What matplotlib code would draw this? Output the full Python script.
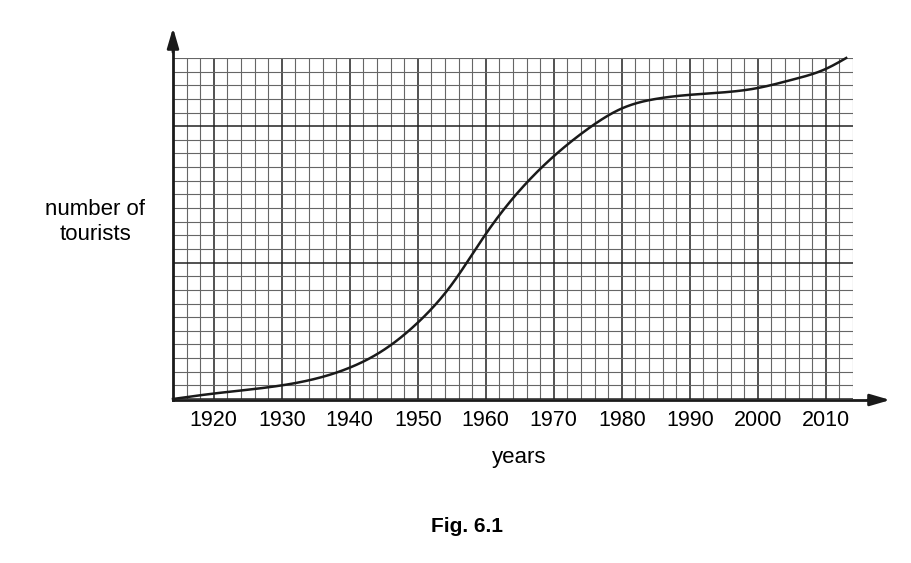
import numpy as np
import matplotlib.pyplot as plt

plt.rcParams['font.family'] = 'Liberation Sans'

# curve (y in small-square units, 0..25)
years = [1914, 1920, 1930, 1940, 1945, 1950, 1955, 1960, 1965, 1970, 1975,
         1980, 1985, 1990, 2000, 2005, 2010, 2013]
tourists = [0, 0.4, 1.0, 2.3, 3.6, 5.6, 8.4, 12.1, 15.3, 17.8, 19.8,
            21.3, 22.0, 22.3, 22.8, 23.4, 24.2, 25.0]
tick_years = list(range(1920, 2011, 10))


def natural_spline(xa, ya, xs):
    xa, ya = np.asarray(xa, float), np.asarray(ya, float)
    n = len(xa)
    h = np.diff(xa)
    A = np.zeros((n, n))
    b = np.zeros(n)
    A[0, 0] = A[-1, -1] = 1
    for i in range(1, n - 1):
        A[i, i - 1] = h[i - 1]
        A[i, i] = 2 * (h[i - 1] + h[i])
        A[i, i + 1] = h[i]
        b[i] = 6 * ((ya[i + 1] - ya[i]) / h[i] - (ya[i] - ya[i - 1]) / h[i - 1])
    M = np.linalg.solve(A, b)
    i = np.clip(np.searchsorted(xa, xs) - 1, 0, n - 2)
    t0, t1 = xs - xa[i], xa[i + 1] - xs
    return (M[i] * t1**3 / (6 * h[i]) + M[i + 1] * t0**3 / (6 * h[i])
            + (ya[i] / h[i] - M[i] * h[i] / 6) * t1
            + (ya[i + 1] / h[i] - M[i + 1] * h[i] / 6) * t0)


W, H = 911, 563
fig = plt.figure(figsize=(W / 100, H / 100), dpi=100)
ax = fig.add_axes([173 / W, (H - 399) / H, 680 / W, 341 / H])
ax.set_xlim(1914, 2014)
ax.set_ylim(0, 25)

# graph paper
for x in np.arange(1914, 2015, 2):
    major = x % 10 == 0
    ax.axvline(x, color='#222' if major else '#666', lw=1.1 if major else 0.8, zorder=1)
for y in range(0, 26):
    major = y % 10 == 0
    ax.axhline(y, color='#222' if major else '#666', lw=1.1 if major else 0.8, zorder=1)

xs = np.linspace(years[0], years[-1], 500)
ys = natural_spline(years, tourists, xs)
ax.plot(xs, ys, color='#1a1a1a', lw=1.8, zorder=3, clip_on=False)

for s in ax.spines.values():
    s.set_visible(False)
ax.set_xticks(tick_years)
ax.set_xticklabels([str(v) for v in tick_years], fontsize=15.5)
ax.tick_params(axis='x', length=0, pad=8)
ax.set_yticks([])

# axis arrows
fig.add_artist(plt.Line2D([173 / W, 173 / W], [(H - 400) / H, (H - 45) / H], color='#1a1a1a', lw=2))
fig.add_artist(plt.Line2D([173 / W, 875 / W], [(H - 400) / H, (H - 400) / H], color='#1a1a1a', lw=2))
ax.annotate('', xy=(173 / W, (H - 25) / H), xytext=(173 / W, (H - 55) / H),
            xycoords='figure fraction',
            arrowprops=dict(arrowstyle='-|>,head_width=0.35,head_length=1.2', color='#1a1a1a', lw=2))
ax.annotate('', xy=(893 / W, (H - 400) / H), xytext=(865 / W, (H - 400) / H),
            xycoords='figure fraction',
            arrowprops=dict(arrowstyle='-|>,head_width=0.35,head_length=1.2', color='#1a1a1a', lw=2))

fig.text(95 / W, (H - 222) / H, 'number of\ntourists', ha='center', va='center',
         fontsize=16, linespacing=1.3)
fig.text(519 / W, (H - 457) / H, 'years', ha='center', va='center', fontsize=16)
fig.text(467 / W, (H - 527) / H, 'Fig. 6.1', ha='center', va='center', fontsize=15,
         fontweight='bold')

fig.savefig('out.png', dpi=100)
